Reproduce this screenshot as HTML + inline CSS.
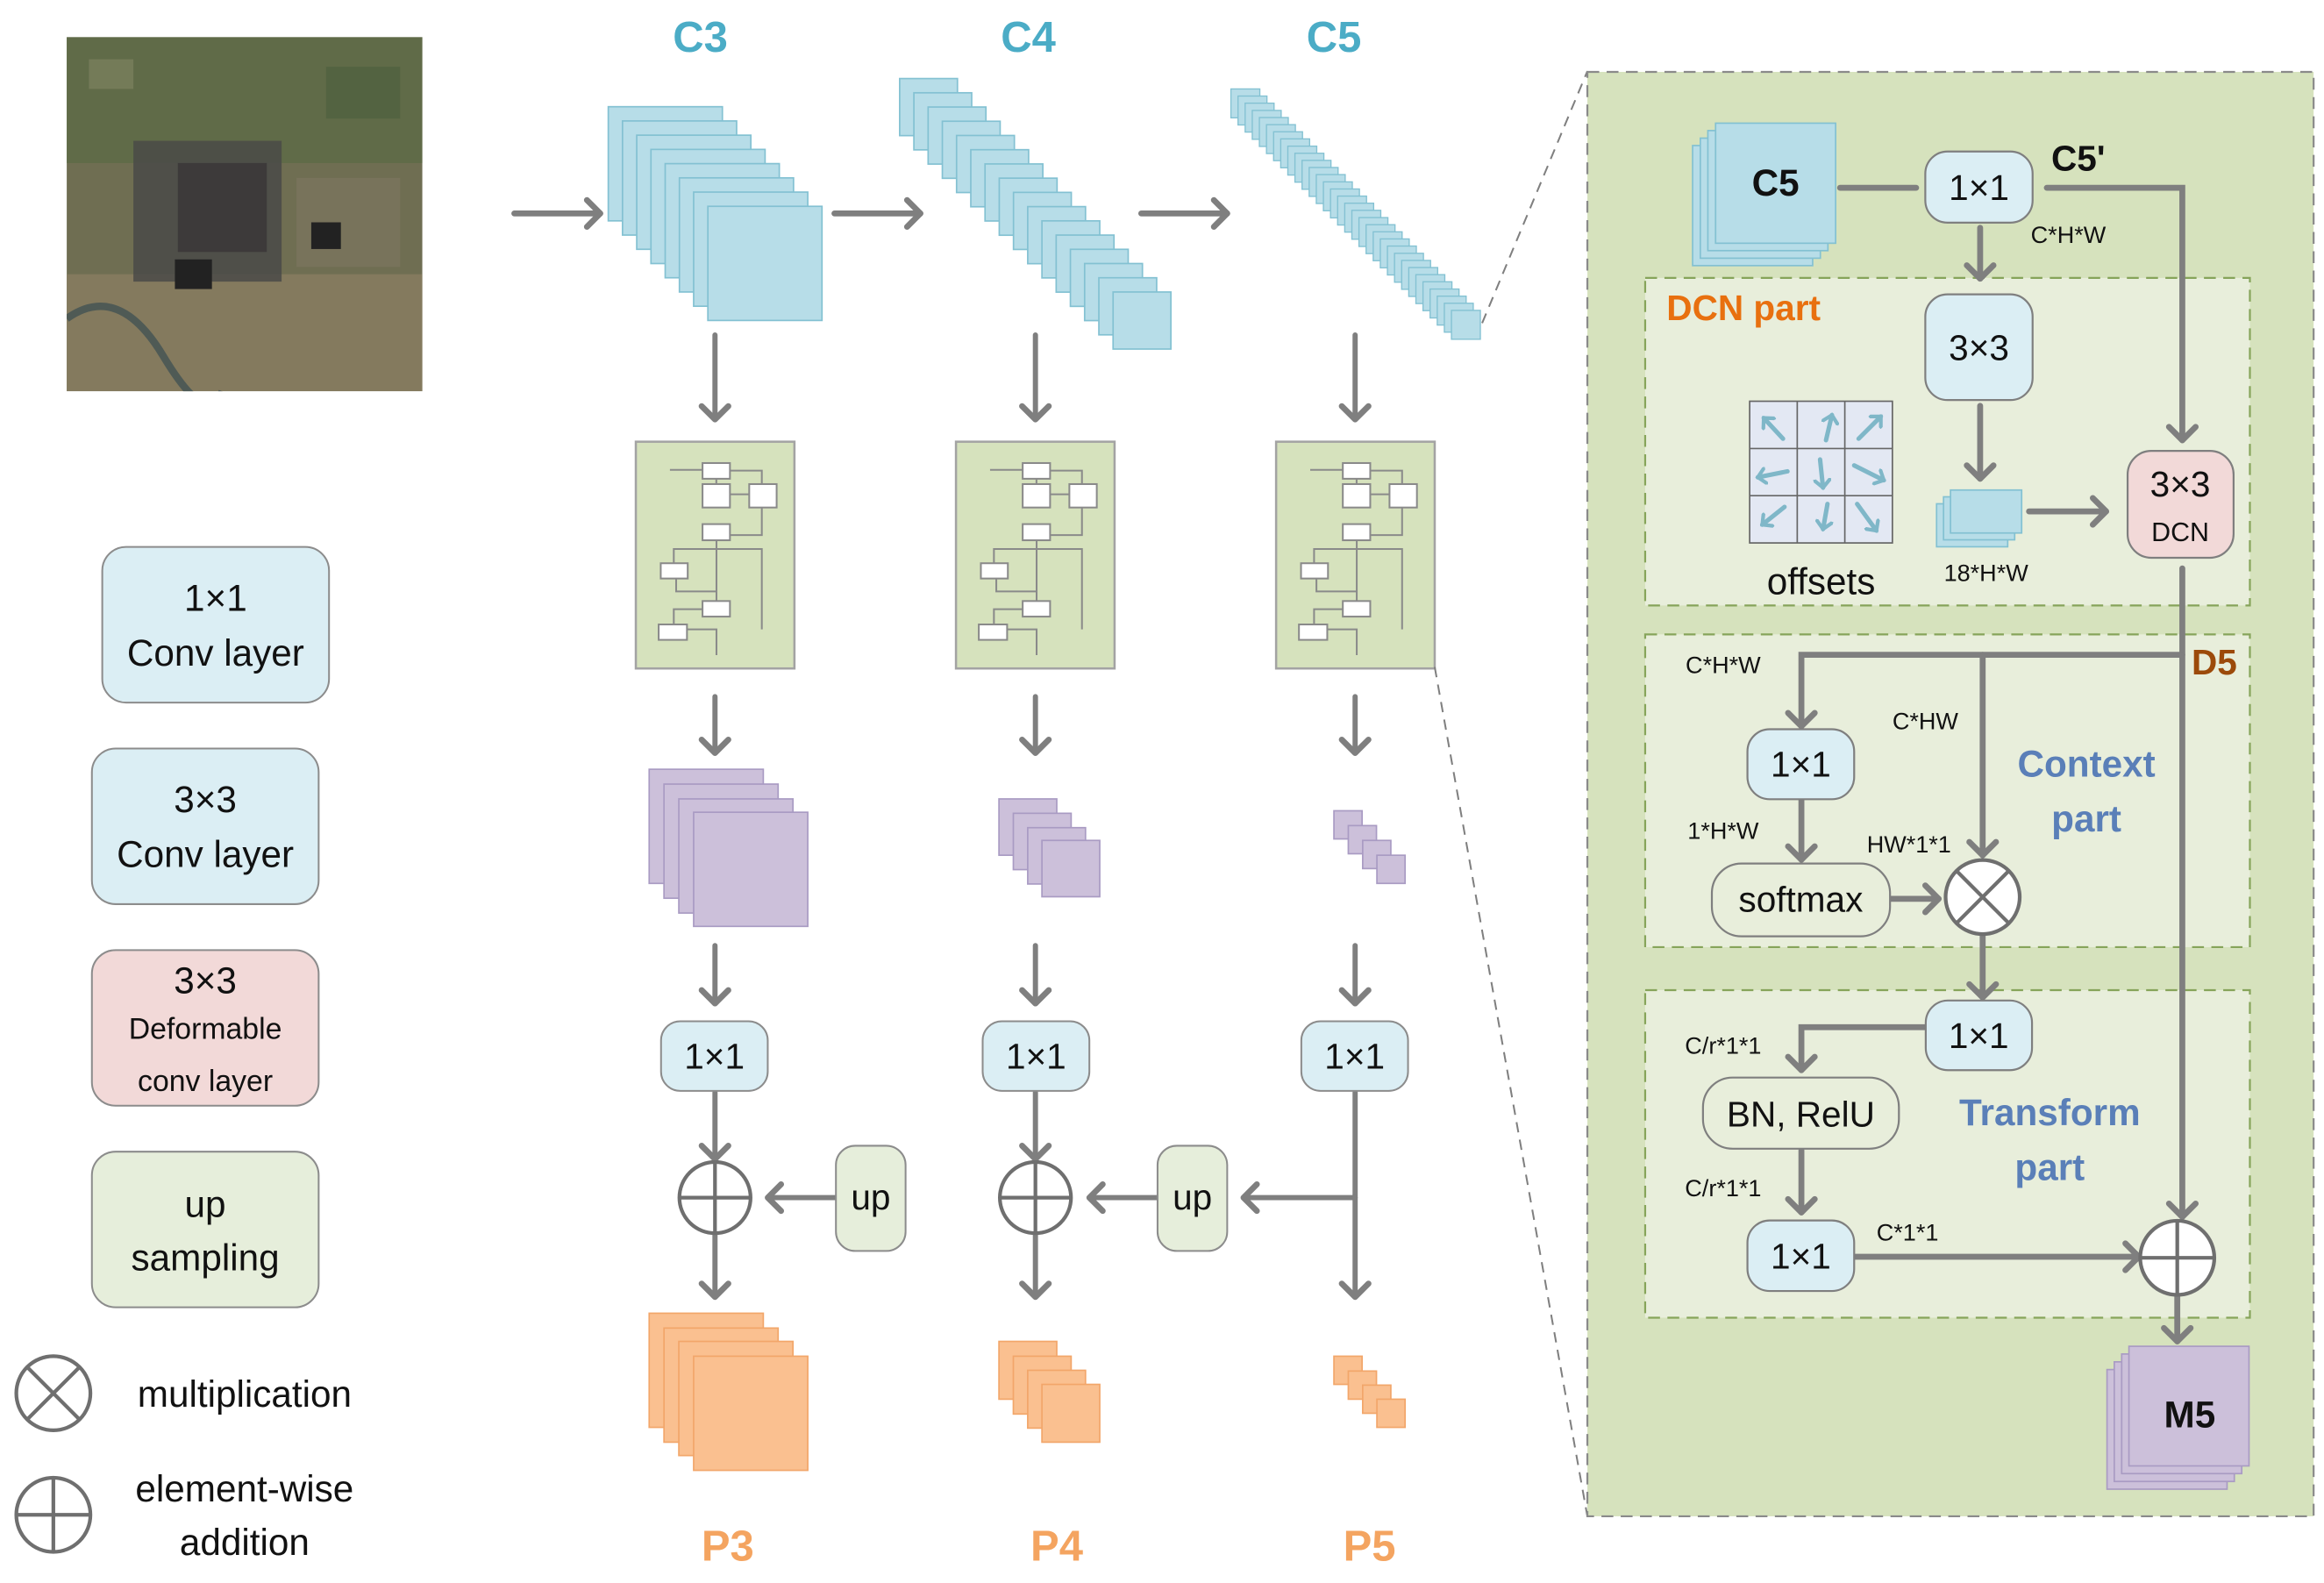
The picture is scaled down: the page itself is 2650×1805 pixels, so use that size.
<!DOCTYPE html>
<html><head><meta charset="utf-8"><style>
html,body{margin:0;padding:0;background:#fff;}
svg{display:block;}
text{font-family:"Liberation Sans",sans-serif;}
</style></head><body>
<svg width="2650" height="1805" viewBox="0 0 1568 1068" preserveAspectRatio="none" xmlns="http://www.w3.org/2000/svg">
<defs>
<marker id="ah" markerUnits="userSpaceOnUse" markerWidth="24" markerHeight="24" refX="12" refY="12" orient="auto">
<polyline points="3,3 12,12 3,21" fill="none" stroke="#7f7f7f" stroke-width="4" stroke-linecap="round" stroke-linejoin="round"/>
</marker>
<marker id="sa" markerUnits="userSpaceOnUse" markerWidth="12" markerHeight="12" refX="6" refY="6" orient="auto">
<polyline points="1,1 6,6 1,11" fill="none" stroke="#7fb7c8" stroke-width="2.5" stroke-linecap="round"/>
</marker>
<clipPath id="sat"><rect x="45" y="25" width="240" height="239"/></clipPath>
<g id="mini">
<rect x="0" y="0" width="107" height="153" fill="#d6e2bd" stroke="#a3a3a3" stroke-width="1.5"/>
<g fill="none" stroke="#8a8a8a" stroke-width="1.2">
<polyline points="23,19 45,19"/>
<polyline points="63.5,19.5 85,19.5 85,28.6"/>
<polyline points="54.3,25 54.3,28.6"/>
<polyline points="63.5,35.5 76.5,35.5"/>
<polyline points="85,44.4 85,63 63.5,63"/>
<polyline points="25.6,82 25.6,72.4 85,72.4 85,126.6"/>
<polyline points="54.4,66.5 54.4,107.5"/>
<polyline points="27.2,92.3 27.2,101 54.4,101"/>
<polyline points="45,113 25.6,113 25.6,123.3"/>
<polyline points="34.5,126.6 54.4,126.6 54.4,144"/>
</g>
<g fill="#fff" stroke="#8a8a8a" stroke-width="1.2">
<rect x="45" y="14.4" width="18.5" height="10.6"/>
<rect x="45" y="28.6" width="18.5" height="15.8"/>
<rect x="76.5" y="28.6" width="18.5" height="15.8"/>
<rect x="45" y="55.6" width="18.5" height="10.9"/>
<rect x="16.8" y="82" width="18.2" height="10.3"/>
<rect x="45" y="107.5" width="18.5" height="10.5"/>
<rect x="15.4" y="123.3" width="19.1" height="10.4"/>
</g>
</g>
</defs>

<!-- satellite image -->
<g clip-path="url(#sat)">
<rect x="45" y="25" width="240" height="239" fill="#6f6e52"/>
<rect x="45" y="25" width="240" height="85" fill="#5c6a46" opacity="0.8"/>
<rect x="45" y="185" width="240" height="79" fill="#8a7d62" opacity="0.8"/>
<rect x="60" y="40" width="30" height="20" fill="#7d8260" opacity="0.7"/>
<rect x="220" y="45" width="50" height="35" fill="#4f5f3e" opacity="0.7"/>
<rect x="90" y="95" width="100" height="95" fill="#4a4a48" opacity="0.85"/>
<rect x="120" y="110" width="60" height="60" fill="#3d3a3a"/>
<rect x="118" y="175" width="25" height="20" fill="#222"/>
<rect x="200" y="120" width="70" height="60" fill="#7c7560" opacity="0.7"/>
<rect x="210" y="150" width="20" height="18" fill="#222"/>
<path d="M45,215 Q80,190 110,240 T150,264" fill="none" stroke="#4f5a55" stroke-width="5"/>
</g>

<!-- titles -->
<g font-weight="bold" font-size="29" fill="#4bacc6" text-anchor="middle">
<text x="472.5" y="35">C3</text><text x="693.8" y="35">C4</text><text x="900" y="35">C5</text>
</g>
<g font-weight="bold" font-size="29" fill="#f4a460" text-anchor="middle">
<text x="491" y="1053">P3</text><text x="713" y="1053">P4</text><text x="924" y="1053">P5</text>
</g>

<!-- horizontal arrows top -->
<g stroke="#7f7f7f" stroke-width="4" stroke-linecap="round" fill="none" marker-end="url(#ah)">
<line x1="347" y1="144" x2="405" y2="144"/>
<line x1="563" y1="144" x2="621" y2="144"/>
<line x1="770" y1="144" x2="828" y2="144"/>
</g>

<!-- C3 stack -->
<g fill="#b7dde8" stroke="#83c1d2" stroke-width="1">
<rect x="410.4" y="72" width="77" height="77"/><rect x="420" y="81.6" width="77" height="77"/><rect x="429.6" y="91.2" width="77" height="77"/><rect x="439.2" y="100.8" width="77" height="77"/><rect x="448.8" y="110.4" width="77" height="77"/><rect x="458.4" y="120" width="77" height="77"/><rect x="468" y="129.6" width="77" height="77"/><rect x="477.6" y="139.2" width="77" height="77"/>
</g>
<!-- C4 stack -->
<g fill="#b7dde8" stroke="#83c1d2" stroke-width="1">
<rect x="607" y="53" width="39" height="38.5"/><rect x="616.6" y="62.6" width="39" height="38.5"/><rect x="626.2" y="72.2" width="39" height="38.5"/><rect x="635.8" y="81.8" width="39" height="38.5"/><rect x="645.4" y="91.4" width="39" height="38.5"/><rect x="655" y="101" width="39" height="38.5"/><rect x="664.6" y="110.6" width="39" height="38.5"/><rect x="674.2" y="120.2" width="39" height="38.5"/><rect x="683.8" y="129.8" width="39" height="38.5"/><rect x="693.4" y="139.4" width="39" height="38.5"/><rect x="703" y="149" width="39" height="38.5"/><rect x="712.6" y="158.6" width="39" height="38.5"/><rect x="722.2" y="168.2" width="39" height="38.5"/><rect x="731.8" y="177.8" width="39" height="38.5"/><rect x="741.4" y="187.4" width="39" height="38.5"/><rect x="751" y="197" width="39" height="38.5"/>
</g>
<!-- C5 stack -->
<g fill="#b7dde8" stroke="#83c1d2" stroke-width="0.8">
<rect x="830.5" y="60" width="19.5" height="19.5"/><rect x="835.3" y="64.8" width="19.5" height="19.5"/><rect x="840.1" y="69.6" width="19.5" height="19.5"/><rect x="844.9" y="74.5" width="19.5" height="19.5"/><rect x="849.7" y="79.3" width="19.5" height="19.5"/><rect x="854.5" y="84.1" width="19.5" height="19.5"/><rect x="859.3" y="88.9" width="19.5" height="19.5"/><rect x="864.1" y="93.7" width="19.5" height="19.5"/><rect x="868.9" y="98.6" width="19.5" height="19.5"/><rect x="873.7" y="103.4" width="19.5" height="19.5"/><rect x="878.5" y="108.2" width="19.5" height="19.5"/><rect x="883.3" y="113" width="19.5" height="19.5"/><rect x="888.1" y="117.8" width="19.5" height="19.5"/><rect x="892.9" y="122.7" width="19.5" height="19.5"/><rect x="897.7" y="127.5" width="19.5" height="19.5"/><rect x="902.5" y="132.3" width="19.5" height="19.5"/><rect x="907.3" y="137.1" width="19.5" height="19.5"/><rect x="912.1" y="141.9" width="19.5" height="19.5"/><rect x="916.9" y="146.8" width="19.5" height="19.5"/><rect x="921.7" y="151.6" width="19.5" height="19.5"/><rect x="926.5" y="156.4" width="19.5" height="19.5"/><rect x="931.3" y="161.2" width="19.5" height="19.5"/><rect x="936.1" y="166" width="19.5" height="19.5"/><rect x="940.9" y="170.9" width="19.5" height="19.5"/><rect x="945.7" y="175.7" width="19.5" height="19.5"/><rect x="950.5" y="180.5" width="19.5" height="19.5"/><rect x="955.3" y="185.3" width="19.5" height="19.5"/><rect x="960.1" y="190.1" width="19.5" height="19.5"/><rect x="964.9" y="195" width="19.5" height="19.5"/><rect x="969.7" y="199.8" width="19.5" height="19.5"/><rect x="974.5" y="204.6" width="19.5" height="19.5"/><rect x="979.3" y="209.4" width="19.5" height="19.5"/>
</g>

<!-- vertical arrows -->
<g stroke="#7f7f7f" stroke-width="3.5" stroke-linecap="round" fill="none" marker-end="url(#ah)">
<line x1="482.4" y1="226" x2="482.4" y2="283"/><line x1="698.6" y1="226" x2="698.6" y2="283"/><line x1="914.3" y1="226" x2="914.3" y2="283"/>
<line x1="482.4" y1="470" x2="482.4" y2="508"/><line x1="698.6" y1="470" x2="698.6" y2="508"/><line x1="914.3" y1="470" x2="914.3" y2="508"/>
<line x1="482.4" y1="638" x2="482.4" y2="677"/><line x1="698.6" y1="638" x2="698.6" y2="677"/><line x1="914.3" y1="638" x2="914.3" y2="677"/>
<line x1="482.4" y1="737" x2="482.4" y2="782"/><line x1="698.6" y1="737" x2="698.6" y2="782"/>
<line x1="914.3" y1="737" x2="914.3" y2="875"/>
<line x1="482.4" y1="833" x2="482.4" y2="875"/><line x1="698.6" y1="833" x2="698.6" y2="875"/>
<line x1="914.3" y1="808" x2="839" y2="808"/>
<line x1="781" y1="808" x2="735" y2="808"/>
<line x1="564" y1="808" x2="518" y2="808"/>
</g>

<!-- mini diagrams -->
<use href="#mini" x="429" y="298"/>
<use href="#mini" x="645" y="298"/>
<use href="#mini" x="861" y="298"/>

<!-- purple stacks -->
<g fill="#ccc0da" stroke="#a99bc3" stroke-width="1">
<rect x="438" y="519" width="77" height="77"/><rect x="448" y="529" width="77" height="77"/><rect x="458" y="539" width="77" height="77"/><rect x="468" y="548" width="77" height="77"/>
<rect x="674" y="539" width="39" height="38"/><rect x="683.7" y="548.7" width="39" height="38"/><rect x="693.4" y="558.4" width="39" height="38"/><rect x="703" y="567" width="39" height="38"/>
<rect x="900" y="547" width="19" height="19"/><rect x="909.7" y="557" width="19" height="19"/><rect x="919.4" y="567" width="19" height="19"/><rect x="929" y="577" width="19" height="19"/>
</g>
<!-- orange stacks -->
<g fill="#fac090" stroke="#f2a66a" stroke-width="1">
<rect x="438" y="886" width="77" height="77"/><rect x="448" y="896" width="77" height="77"/><rect x="458" y="905" width="77" height="77"/><rect x="468" y="915" width="77" height="77"/>
<rect x="674" y="905" width="39" height="39"/><rect x="683.7" y="915" width="39" height="39"/><rect x="693.4" y="924.5" width="39" height="39"/><rect x="703" y="934" width="39" height="39"/>
<rect x="900" y="915" width="19" height="19"/><rect x="909.7" y="925" width="19" height="19"/><rect x="919.4" y="934.5" width="19" height="19"/><rect x="929" y="944" width="19" height="19"/>
</g>

<!-- 1x1 boxes middle -->
<g fill="#dbeef4" stroke="#8c8c8c" stroke-width="1.2">
<rect x="446" y="689" width="72" height="47" rx="13"/><rect x="663" y="689" width="72" height="47" rx="13"/><rect x="878" y="689" width="72" height="47" rx="13"/>
</g>
<g font-size="24" text-anchor="middle" fill="#111">
<text x="482" y="721">1×1</text><text x="699" y="721">1×1</text><text x="914" y="721">1×1</text>
</g>
<!-- up boxes -->
<g fill="#e6eedb" stroke="#8c8c8c" stroke-width="1.2">
<rect x="564" y="773" width="47" height="71" rx="13"/><rect x="781" y="773" width="47" height="71" rx="13"/>
</g>
<g font-size="24" text-anchor="middle" fill="#111"><text x="587.5" y="816">up</text><text x="804.5" y="816">up</text></g>
<!-- plus circles middle -->
<g fill="#fff" stroke="#6f6f6f" stroke-width="2.5">
<circle cx="482.4" cy="808" r="24"/><line x1="458.4" y1="808" x2="506.4" y2="808"/><line x1="482.4" y1="784" x2="482.4" y2="832"/>
<circle cx="698.6" cy="808" r="24"/><line x1="674.6" y1="808" x2="722.6" y2="808"/><line x1="698.6" y1="784" x2="698.6" y2="832"/>
</g>

<!-- legend -->
<rect x="69" y="369" width="153" height="105" rx="16" fill="#dbeef4" stroke="#8c8c8c" stroke-width="1.2"/>
<rect x="62" y="505" width="153" height="105" rx="16" fill="#dbeef4" stroke="#8c8c8c" stroke-width="1.2"/>
<rect x="62" y="641" width="153" height="105" rx="16" fill="#f2d9d8" stroke="#8c8c8c" stroke-width="1.2"/>
<rect x="62" y="777" width="153" height="105" rx="16" fill="#e6eedb" stroke="#8c8c8c" stroke-width="1.2"/>
<g font-size="25" text-anchor="middle" fill="#111">
<text x="145.5" y="412">1×1</text><text x="145.5" y="449">Conv layer</text>
<text x="138.5" y="548">3×3</text><text x="138.5" y="585">Conv layer</text>
<text x="138.5" y="670">3×3</text>
<text x="138.5" y="701" font-size="20">Deformable</text><text x="138.5" y="736" font-size="20">conv layer</text>
<text x="138.5" y="821">up</text><text x="138.5" y="857">sampling</text>
<text x="165" y="949" text-anchor="middle">multiplication</text>
<text x="165" y="1013">element-wise</text><text x="165" y="1049">addition</text>
</g>
<g fill="#fff" stroke="#6f6f6f" stroke-width="2.5">
<circle cx="36" cy="940" r="25"/><line x1="18.3" y1="922.3" x2="53.7" y2="957.7"/><line x1="53.7" y1="922.3" x2="18.3" y2="957.7"/>
<circle cx="36" cy="1022" r="25"/><line x1="11" y1="1022" x2="61" y2="1022"/><line x1="36" y1="997" x2="36" y2="1047"/>
</g>

<!-- projection lines -->
<g stroke="#7f7f7f" stroke-width="1.2" stroke-dasharray="7,5" fill="none">
<line x1="1000" y1="218" x2="1071" y2="48"/>
<line x1="968" y1="450" x2="1071" y2="1023"/>
</g>

<!-- right panel -->
<rect x="1071" y="48.5" width="490" height="974.5" fill="#d6e2bd" stroke="#8a8a8a" stroke-width="1.3" stroke-dasharray="8,5"/>
<rect x="1110" y="187.5" width="408" height="221" fill="#e8eedb" stroke="#86a45a" stroke-width="1.3" stroke-dasharray="8,5"/>
<rect x="1110" y="428" width="408" height="211" fill="#e8eedb" stroke="#86a45a" stroke-width="1.3" stroke-dasharray="8,5"/>
<rect x="1110" y="668" width="408" height="221" fill="#e8eedb" stroke="#86a45a" stroke-width="1.3" stroke-dasharray="8,5"/>

<!-- C5 stack in panel -->
<g fill="#b7dde8" stroke="#83c1d2" stroke-width="1">
<rect x="1142" y="98.2" width="81" height="81"/><rect x="1147.2" y="93.2" width="81" height="81"/><rect x="1152.3" y="88.1" width="81" height="81"/><rect x="1157.5" y="83.1" width="81" height="81"/>
</g>
<text x="1198" y="132" font-size="25" font-weight="bold" text-anchor="middle" fill="#111">C5</text>

<!-- connectors in panel -->
<g stroke="#7f7f7f" stroke-width="4" stroke-linecap="round" fill="none">
<line x1="1241.5" y1="126.7" x2="1292.8" y2="126.7"/>
<polyline points="1381,126.7 1472.4,126.7 1472.4,297" marker-end="url(#ah)"/>
<line x1="1336" y1="153.7" x2="1336" y2="188" marker-end="url(#ah)"/>
<line x1="1336" y1="273.8" x2="1336" y2="323" marker-end="url(#ah)"/>
<line x1="1369" y1="345" x2="1421" y2="345" marker-end="url(#ah)"/>
<line x1="1472.4" y1="383.5" x2="1472.4" y2="821" marker-end="url(#ah)"/>
<polyline points="1472.4,441.8 1215.4,441.8 1215.4,490" marker-end="url(#ah)"/>
<line x1="1337.7" y1="441.8" x2="1337.7" y2="577" marker-end="url(#ah)"/>
<line x1="1215.4" y1="539.2" x2="1215.4" y2="580" marker-end="url(#ah)"/>
<line x1="1275.8" y1="606.4" x2="1308" y2="606.4" marker-end="url(#ah)"/>
<line x1="1337.7" y1="631" x2="1337.7" y2="673" marker-end="url(#ah)"/>
<polyline points="1300,693 1215.4,693 1215.4,722" marker-end="url(#ah)"/>
<line x1="1215.4" y1="776" x2="1215.4" y2="818" marker-end="url(#ah)"/>
<line x1="1251" y1="847.9" x2="1443" y2="847.9" marker-end="url(#ah)"/>
<line x1="1469" y1="874" x2="1469" y2="905" marker-end="url(#ah)"/>
</g>

<!-- boxes in panel -->
<g stroke="#7f7f7f" stroke-width="1.3">
<rect x="1299" y="102.2" width="72.4" height="48" rx="15" fill="#dbeef4"/>
<rect x="1299" y="198.6" width="72.4" height="71.3" rx="15" fill="#dbeef4"/>
<rect x="1435.5" y="304.2" width="71.5" height="72.1" rx="16" fill="#f2d9d8"/>
<rect x="1179" y="492" width="72" height="47.2" rx="15" fill="#dbeef4"/>
<rect x="1155" y="582.6" width="120.2" height="49.1" rx="20" fill="#e8eedb"/>
<rect x="1299.3" y="675" width="71.7" height="47" rx="15" fill="#dbeef4"/>
<rect x="1149" y="727" width="132.2" height="48" rx="20" fill="#e8eedb"/>
<rect x="1179" y="823.4" width="72" height="47.6" rx="15" fill="#dbeef4"/>
</g>
<g font-size="24" text-anchor="middle" fill="#111">
<text x="1335.2" y="135">1×1</text>
<text x="1335.2" y="243">3×3</text>
<text x="1471" y="335">3×3</text>
<text x="1471" y="365" font-size="18">DCN</text>
<text x="1215" y="524">1×1</text>
<text x="1215" y="615">softmax</text>
<text x="1335" y="707">1×1</text>
<text x="1215" y="760">BN, RelU</text>
<text x="1215" y="856">1×1</text>
<text x="1228.7" y="401" font-size="25">offsets</text>
</g>
<g font-size="16" text-anchor="middle" fill="#111">
<text x="1395.5" y="164">C*H*W</text>
<text x="1340" y="392">18*H*W</text>
<text x="1162.6" y="454">C*H*W</text>
<text x="1299" y="492">C*HW</text>
<text x="1162.6" y="566">1*H*W</text>
<text x="1288" y="575">HW*1*1</text>
<text x="1162.6" y="711">C/r*1*1</text>
<text x="1162.6" y="807">C/r*1*1</text>
<text x="1287" y="837">C*1*1</text>
</g>
<text x="1384" y="115" font-size="24" font-weight="bold" fill="#111">C5'</text>
<text x="1124.4" y="216" font-size="24" font-weight="bold" fill="#e8700f">DCN part</text>
<text x="1494" y="455" font-size="24" font-weight="bold" fill="#9c4a0a" text-anchor="middle">D5</text>
<g font-size="25" font-weight="bold" fill="#5a7fb8" text-anchor="middle">
<text x="1407.7" y="524">Context</text><text x="1407.7" y="561">part</text>
<text x="1383" y="759">Transform</text><text x="1383" y="796">part</text>
</g>

<!-- offsets grid -->
<g fill="#e3e8f3" stroke="#666" stroke-width="1">
<rect x="1180.5" y="270.7" width="96.3" height="95.6"/>
<line x1="1212.6" y1="270.7" x2="1212.6" y2="366.3"/><line x1="1244.7" y1="270.7" x2="1244.7" y2="366.3"/>
<line x1="1180.5" y1="302.6" x2="1276.8" y2="302.6"/><line x1="1180.5" y1="334.4" x2="1276.8" y2="334.4"/>
</g>
<g stroke="#7fb7c8" stroke-width="3" fill="none" stroke-linecap="round" marker-end="url(#sa)">
<line x1="1203" y1="296" x2="1190" y2="282"/><line x1="1232" y1="297" x2="1236" y2="280"/><line x1="1254" y1="296" x2="1269" y2="281"/>
<line x1="1206" y1="318" x2="1186" y2="322"/><line x1="1228" y1="310" x2="1230" y2="329"/><line x1="1251" y1="314" x2="1271" y2="324"/>
<line x1="1204" y1="342" x2="1189" y2="354"/><line x1="1233" y1="340" x2="1230" y2="357"/><line x1="1253" y1="340" x2="1266" y2="358"/>
</g>

<!-- offset map stack -->
<g fill="#b7dde8" stroke="#83c1d2" stroke-width="1">
<rect x="1306.6" y="339.9" width="48" height="29"/><rect x="1311.3" y="335.2" width="48" height="29"/><rect x="1316" y="330.6" width="48" height="29"/>
</g>

<!-- circles in panel -->
<g fill="#fff" stroke="#6f6f6f" stroke-width="2.5">
<circle cx="1337.7" cy="605.2" r="25"/><line x1="1320" y1="587.5" x2="1355.4" y2="622.9"/><line x1="1355.4" y1="587.5" x2="1320" y2="622.9"/>
<circle cx="1469" cy="848.6" r="25"/><line x1="1444" y1="848.6" x2="1494" y2="848.6"/><line x1="1469" y1="823.6" x2="1469" y2="873.6"/>
</g>

<!-- M5 stack -->
<g fill="#ccc0da" stroke="#a99bc3" stroke-width="1">
<rect x="1421.6" y="924" width="81" height="80.7"/><rect x="1426.5" y="918.8" width="81" height="80.7"/><rect x="1431.5" y="913.5" width="81" height="80.7"/><rect x="1436.4" y="908.3" width="81" height="80.7"/>
</g>
<text x="1477.4" y="963" font-size="25" font-weight="bold" text-anchor="middle" fill="#111">M5</text>
</svg>
</body></html>
